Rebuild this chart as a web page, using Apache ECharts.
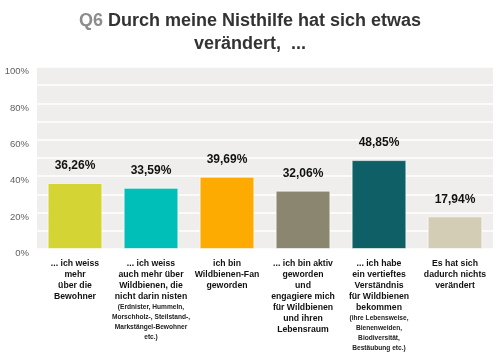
<!DOCTYPE html>
<html><head><meta charset="utf-8">
<script src="https://cdn.jsdelivr.net/npm/echarts@6/dist/echarts.min.js"></script>
<style>html,body{margin:0;padding:0;background:#fff}#c{width:500px;height:360px}</style>
</head><body><div id="c"></div>
<script>
const categories = [
  "... ich weiss\nmehr\nüber die\nBewohner",
  "... ich weiss\nauch mehr über\nWildbienen, die\nnicht darin nisten\n{s|(Erdnister, Hummeln,}\n{s|Morschholz-, Steilstand-,}\n{s|Markstängel-Bewohner}\n{s|etc.)}",
  "ich bin\nWildbienen-Fan\ngeworden",
  "... ich bin aktiv\ngeworden\nund\nengagiere mich\nfür Wildbienen\nund ihren\nLebensraum",
  "... ich habe\nein vertieftes\nVerständnis\nfür Wildbienen\nbekommen\n{s|(ihre Lebensweise,}\n{s|Bienenweiden,}\n{s|Biodiversität,}\n{s|Bestäubung etc.)}",
  "Es hat sich\ndadurch nichts\nverändert"
];
const values = [36.26, 33.59, 39.69, 32.06, 48.85, 17.94];
const colors = ["#d4d534", "#00bfb8", "#fdab00", "#8a8670", "#0f6066", "#d4cdb5"];
const yTicks = [0, 20, 40, 60, 80, 100];

const chart = echarts.init(document.getElementById('c'));
const font = "'Liberation Sans', Arial, sans-serif";
chart.setOption({
  animation: false,
  title: {
    text: "{q|Q6} Durch meine Nisthilfe hat sich etwas\nverändert,  ...",
    left: 'center', top: 5,
    textStyle: {
      fontFamily: font, fontSize: 18, fontWeight: 'bold', color: '#333', lineHeight: 23,
      rich: { q: { fontFamily: font, fontSize: 18, fontWeight: 'bold', color: '#8c8c8c', lineHeight: 23 } }
    }
  },
  grid: { left: 37, right: 7, top: 67, bottom: 111, show: true, backgroundColor: '#efeeec', borderWidth: 0 },
  xAxis: {
    type: 'category', data: categories,
    axisLine: { show: false }, axisTick: { show: false },
    axisLabel: {
      interval: 0, margin: 9, fontFamily: font, fontSize: 8.7, fontWeight: 'bold', color: '#111', lineHeight: 11,
      rich: { s: { fontFamily: font, fontSize: 6.6, fontWeight: 'bold', color: '#222', lineHeight: 10 } }
    }
  },
  yAxis: {
    type: 'value', min: 0, max: 100, interval: 10,
    axisLine: { show: false }, axisTick: { show: false },
    splitLine: { show: true, lineStyle: { color: '#ffffff', width: 1.5 } },
    axisLabel: {
      fontFamily: font, fontSize: 9.5, color: '#5f5f5f', margin: 8,
      formatter: v => yTicks.includes(v) ? v + '%' : '',
      verticalAlign: 'top', lineHeight: 9
    }
  },
  series: [{
    type: 'bar', barCategoryGap: '28%',
    data: values.map((v, i) => ({ value: v, itemStyle: { color: colors[i] } })),
    itemStyle: { borderColor: 'rgba(255,255,255,0.6)', borderWidth: 1 },
    label: {
      show: true, position: 'top', distance: 11,
      fontFamily: font, fontSize: 12, fontWeight: 'bold', color: '#111',
      formatter: p => p.value.toFixed(2).replace('.', ',') + '%'
    }
  }]
});
</script></body></html>
